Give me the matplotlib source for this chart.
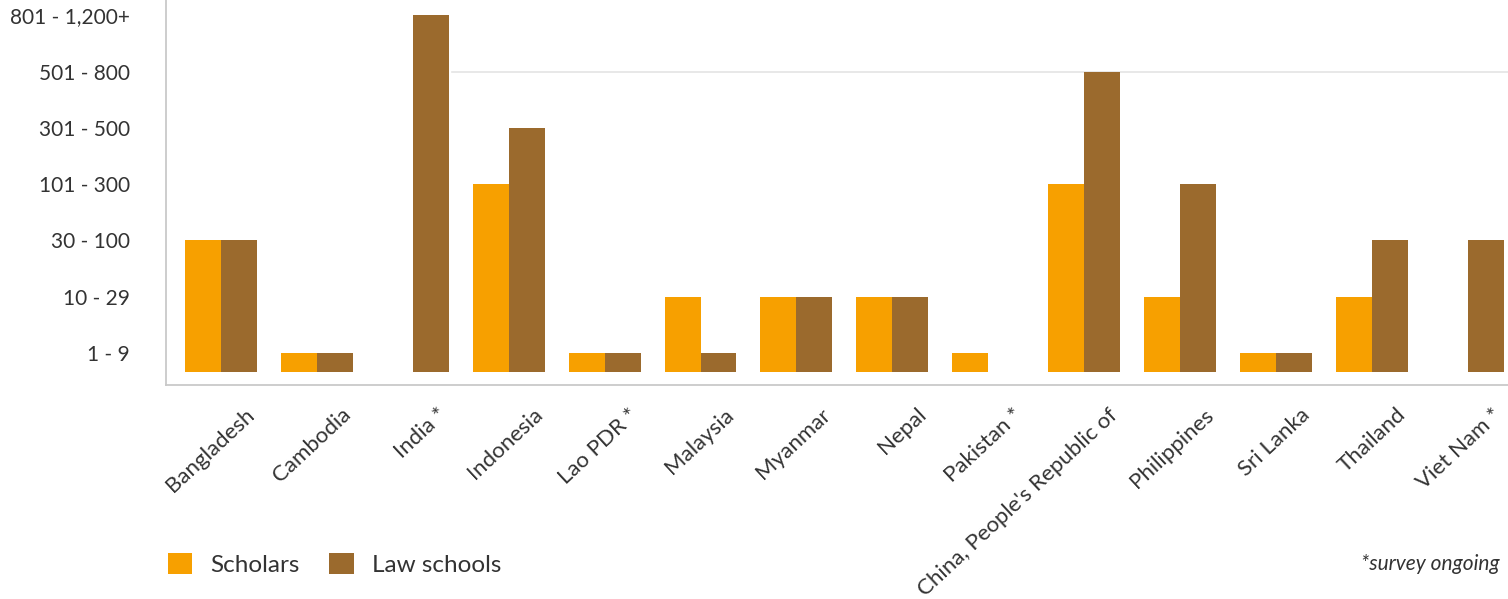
import numpy as np
import matplotlib
matplotlib.use("Agg")
import matplotlib.pyplot as plt
import matplotlib.transforms as mtransforms
from matplotlib.patches import Patch

# ==========================================
# DATA
# ==========================================
countries = ["Bangladesh", "Cambodia", "India *", "Indonesia", "Lao PDR *",
             "Malaysia", "Myanmar", "Nepal", "Pakistan *",
             "China, People's Republic of", "Philippines", "Sri Lanka",
             "Thailand", "Viet Nam *"]
range_labels = ["1 - 9", "10 - 29", "30 - 100", "101 - 300", "301 - 500",
                "501 - 800", "801 - 1,200+"]

# value = index of range band (1 = "1 - 9" ... 7 = "801 - 1,200+"), 0 = no bar
scholars = [3, 1, 0, 4, 1, 2, 2, 2, 1, 4, 2, 1, 2, 0]
law_schools = [3, 1, 7, 5, 1, 1, 2, 2, 0, 6, 4, 1, 3, 3]

# ==========================================
# STYLE
# ==========================================
SCHOLAR_COL = "#F7A000"
LAW_COL = "#9B6A2D"
TEXT_COL = "#333333"
SPINE_COL = "#c9c9c9"
BAR_W = 0.375
BASE = 0.66          # bars start a bit above the axis line

plt.rcParams['font.family'] = ['Lato', 'DejaVu Sans']

fig = plt.figure(figsize=(15.08, 5.99), dpi=100)
ax = fig.add_axes([0.110, 0.357, 0.890, 0.643])

x = np.arange(len(countries))
sch = np.array(scholars, dtype=float)
law = np.array(law_schools, dtype=float)

ax.bar(x - BAR_W / 2, np.where(sch > 0, sch - BASE, 0), BAR_W, bottom=BASE,
       color=SCHOLAR_COL, linewidth=0)
ax.bar(x + BAR_W / 2, np.where(law > 0, law - BASE, 0), BAR_W, bottom=BASE,
       color=LAW_COL, linewidth=0)

# faint guide line seen behind the top of the chart
ax.axhline(6, xmin=0.213, xmax=1.0, color="#e4e4e4", linewidth=1.2, zorder=0)

ax.set_xlim(-0.573, 13.417)
ax.set_ylim(0.43, 7.27)

ax.set_yticks(range(1, len(range_labels) + 1))
ax.set_yticklabels(range_labels, fontsize=15, color=TEXT_COL)
ax.tick_params(axis='y', length=0, pad=26)

ax.set_xticks(x)
ax.set_xticklabels(countries, fontsize=16, color=TEXT_COL, rotation=43,
                   ha='right', va='top', rotation_mode='anchor')
ax.tick_params(axis='x', length=0, pad=14)
offset = mtransforms.ScaledTranslation(0.24, 0, fig.dpi_scale_trans)
for lbl in ax.get_xticklabels():
    lbl.set_transform(lbl.get_transform() + offset)

for side in ['top', 'right']:
    ax.spines[side].set_visible(False)
for side in ['left', 'bottom']:
    ax.spines[side].set_color(SPINE_COL)
    ax.spines[side].set_linewidth(1.3)

# legend
handles = [Patch(facecolor=SCHOLAR_COL, edgecolor='none', label="Scholars"),
           Patch(facecolor=LAW_COL, edgecolor='none', label="Law schools")]
fig.legend(handles=handles, loc='center left', bbox_to_anchor=(0.097, 0.058),
           ncol=2, frameon=False, fontsize=17.5, handlelength=1.0,
           handleheight=1.0, handletextpad=0.75, columnspacing=1.2,
           labelcolor=TEXT_COL)

fig.text(0.9025, 0.058, "*survey ongoing", fontsize=15, style='italic',
         color=TEXT_COL, ha='left', va='center')

fig.savefig("out.png", dpi=100, facecolor='white')
